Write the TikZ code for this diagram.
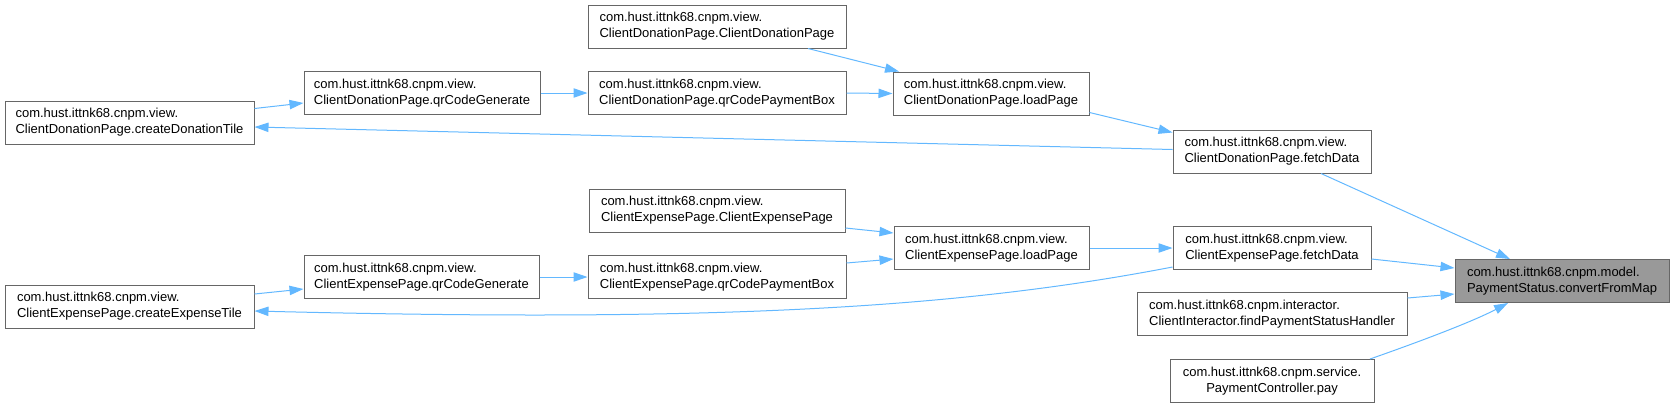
\documentclass[tikz,border=0pt]{standalone}
\usepackage{fontspec}
\setmainfont{Liberation Sans}
\usetikzlibrary{arrows.meta,calc}
\definecolor{edgec}{RGB}{99,184,255}
\definecolor{boxc}{RGB}{102,102,102}
\definecolor{hlfill}{RGB}{153,153,153}
\begin{document}
\begin{tikzpicture}[x=0.75pt,y=-0.75pt,
  fn/.style={draw=boxc, line width=0.75pt, fill=white, inner sep=0pt,
    minimum height=32.25pt, align=left,
    font=\fontsize{9.75pt}{12pt}\selectfont},
  hl/.style={fn, fill=hlfill},
  edge/.style={draw=edgec, line width=0.75pt, -{Triangle[length=10.5pt,width=7pt]}}]
\useasboundingbox (0,0) rectangle (1674,408);

\node[hl, minimum width=160.5pt] (cfm) at (1562,281) {com.hust.ittnk68.cnpm.model.\\PaymentStatus.convertFromMap};
\node[fn, minimum width=148.5pt] (dfetch) at (1272,151.5) {com.hust.ittnk68.cnpm.view.\\ClientDonationPage.fetchData};
\node[fn, minimum width=148.5pt] (efetch) at (1272,248) {com.hust.ittnk68.cnpm.view.\\ClientExpensePage.fetchData};
\node[fn, minimum width=202.5pt] (find) at (1272,314) {com.hust.ittnk68.cnpm.interactor.\\ClientInteractor.findPaymentStatusHandler};
\node[fn, minimum width=153pt, align=center] (pay) at (1272,381) {com.hust.ittnk68.cnpm.service.\\PaymentController.pay};
\node[fn, minimum width=147pt] (dload) at (991,93.5) {com.hust.ittnk68.cnpm.view.\\ClientDonationPage.loadPage};
\node[fn, minimum width=146.25pt] (eload) at (991.5,248) {com.hust.ittnk68.cnpm.view.\\ClientExpensePage.loadPage};
\node[fn, minimum width=193.5pt] (dctor) at (717,26.5) {com.hust.ittnk68.cnpm.view.\\ClientDonationPage.ClientDonationPage};
\node[fn, minimum width=193.5pt] (dqrpb) at (717,93) {com.hust.ittnk68.cnpm.view.\\ClientDonationPage.qrCodePaymentBox};
\node[fn, minimum width=177pt] (dqrg) at (422,93) {com.hust.ittnk68.cnpm.view.\\ClientDonationPage.qrCodeGenerate};
\node[fn, minimum width=186.75pt] (dtile) at (129.5,122.5) {com.hust.ittnk68.cnpm.view.\\ClientDonationPage.createDonationTile};
\node[fn, minimum width=192pt] (ector) at (717,210.5) {com.hust.ittnk68.cnpm.view.\\ClientExpensePage.ClientExpensePage};
\node[fn, minimum width=193.5pt] (eqrpb) at (717,277) {com.hust.ittnk68.cnpm.view.\\ClientExpensePage.qrCodePaymentBox};
\node[fn, minimum width=176.25pt] (eqrg) at (421.5,277) {com.hust.ittnk68.cnpm.view.\\ClientExpensePage.qrCodeGenerate};
\node[fn, minimum width=186.75pt] (etile) at (129.5,306.5) {com.hust.ittnk68.cnpm.view.\\ClientExpensePage.createExpenseTile};

% edges into convertFromMap
\draw[edge] ($(dfetch.south)+(49,0)$) -- ($(cfm.north)+(-52,0)$);
\draw[edge] ($(efetch.east)+(0,11)$) -- ($(cfm.west)+(0,-13)$);
\draw[edge] ($(find.east)+(0,-16)$) -- ($(cfm.west)+(0,13)$);
\draw[edge] ($(pay.north)+(98,0)$) .. controls +(40,-14) and +(-38,20) .. ($(cfm.south)+(-54,0)$);

% donation branch
\draw[edge] ($(dload.east)+(0,19)$) -- ($(dfetch.west)+(0,-19)$);
\draw[edge] ($(dfetch.west)+(0,-2)$) -- ($(dtile.east)+(0,4.5)$);
\draw[edge] ($(dctor.south)+(91,0)$) -- ($(dload.north)+(-92,0)$);
\draw[edge] (dqrpb.east) -- (dload.west);
\draw[edge] (dqrg.east) -- (dqrpb.west);
\draw[edge] ($(dtile.east)+(0,-14)$) -- ($(dqrg.west)+(0,10)$);

% expense branch
\draw[edge] (eload.east) -- (efetch.west);
\draw[edge] ($(efetch.west)+(0,19)$) .. controls +(-223,43) and +(446,11) .. ($(etile.east)+(0,4.5)$);
\draw[edge] ($(ector.east)+(0,17.5)$) -- ($(eload.west)+(0,-15)$);
\draw[edge] ($(eqrpb.east)+(0,-14)$) -- ($(eload.west)+(0,11)$);
\draw[edge] (eqrg.east) -- (eqrpb.west);
\draw[edge] ($(etile.east)+(0,-12.5)$) -- ($(eqrg.west)+(0,12)$);
\end{tikzpicture}
\end{document}
